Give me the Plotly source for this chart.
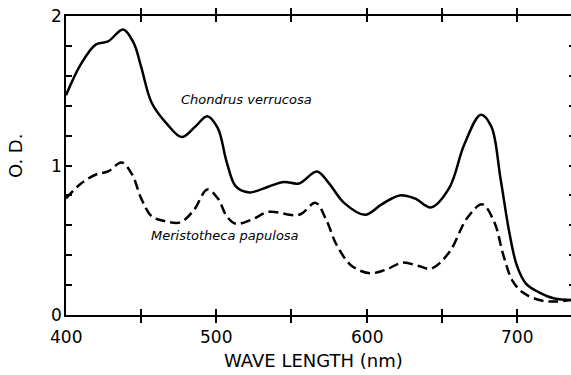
import plotly.graph_objects as go

# Chondrus verrucosa (solid)
wl_c = [400, 410, 420, 428, 438, 445, 450, 457, 467, 477, 486, 494, 501, 507, 513, 522, 535, 545, 555, 567, 575, 585, 599, 610, 622, 632, 643, 655, 665, 676, 683, 689, 695, 700, 706, 715, 725, 736]
od_c = [1.47, 1.68, 1.81, 1.83, 1.91, 1.82, 1.66, 1.42, 1.28, 1.19, 1.26, 1.33, 1.25, 1.02, 0.86, 0.82, 0.86, 0.89, 0.88, 0.96, 0.88, 0.75, 0.67, 0.74, 0.80, 0.78, 0.72, 0.85, 1.14, 1.34, 1.26, 0.92, 0.55, 0.33, 0.21, 0.15, 0.11, 0.10]

# Meristotheca papulosa (dashed)
wl_m = [400, 410, 420, 428, 437, 444, 450, 457, 465, 476, 485, 494, 501, 507, 513, 524, 535, 555, 566, 573, 580, 590, 602, 612, 624, 634, 643, 655, 667, 677, 685, 691, 697, 704, 715, 725, 736]
od_m = [0.78, 0.88, 0.94, 0.96, 1.02, 0.94, 0.78, 0.66, 0.63, 0.62, 0.70, 0.84, 0.78, 0.66, 0.61, 0.64, 0.69, 0.67, 0.75, 0.64, 0.47, 0.33, 0.28, 0.30, 0.35, 0.33, 0.31, 0.42, 0.65, 0.74, 0.62, 0.40, 0.23, 0.15, 0.10, 0.09, 0.10]

x_ticks = [400, 500, 600, 700]
y_ticks = [0, 1, 2]

FONT = "DejaVu Sans"

fig = go.Figure()
fig.add_trace(go.Scatter(x=wl_c, y=od_c, mode="lines",
                         line=dict(color="black", width=2.5, shape="spline", smoothing=1.0),
                         showlegend=False))
fig.add_trace(go.Scatter(x=wl_m, y=od_m, mode="lines",
                         line=dict(color="black", width=2.5, dash="10px,5px", shape="spline", smoothing=1.0),
                         showlegend=False))
# invisible trace for the right-side tick axis
fig.add_trace(go.Scatter(x=[400], y=[0], yaxis="y2", mode="markers", marker=dict(opacity=0),
                         showlegend=False, hoverinfo="skip"))

fig.add_annotation(x=520, y=1.44, text="<i>Chondrus verrucosa</i>", showarrow=False,
                   font=dict(family=FONT, size=13, color="black"))
fig.add_annotation(x=506, y=0.53, text="<i>Meristotheca papulosa</i>", showarrow=False,
                   font=dict(family=FONT, size=13, color="black"))

# axis titles
fig.add_annotation(x=0.49, y=-0.152, xref="paper", yref="paper", text="WAVE LENGTH (nm)",
                   showarrow=False, yanchor="middle", font=dict(family=FONT, size=18))
fig.add_annotation(x=-0.10, y=0.53, xref="paper", yref="paper", text="O. D.", textangle=-90,
                   showarrow=False, xanchor="center", font=dict(family=FONT, size=18))

fig.update_layout(
    width=571, height=375,
    margin=dict(l=66, r=0, t=16, b=60),
    plot_bgcolor="white", paper_bgcolor="white",
    font=dict(family=FONT, size=17, color="black"),
    xaxis=dict(range=[400, 736], showline=True, linecolor="black", linewidth=2, mirror="allticks",
               ticks="inside", ticklen=6, tickwidth=2, tickcolor="black", dtick=50, tick0=400,
               showgrid=False, zeroline=False, showticklabels=False, automargin=False),
    yaxis=dict(range=[0, 2], showline=True, linecolor="black", linewidth=2,
               ticks="inside", ticklen=6, tickwidth=2, tickcolor="black", dtick=0.2, tick0=0,
               showgrid=False, zeroline=False, showticklabels=False, automargin=False),
    yaxis2=dict(range=[0, 2], overlaying="y", side="right", showline=False,
                ticks="inside", ticklen=2, tickwidth=2, tickcolor="black", dtick=0.2, tick0=0,
                showgrid=False, zeroline=False, showticklabels=False, automargin=False),
)

# tick labels tied to axis values
for v in x_ticks:
    fig.add_annotation(x=v, y=0, xref="x", yref="y", text=str(v), showarrow=False,
                       yanchor="top", yshift=-10, font=dict(family=FONT, size=17))
for v in y_ticks:
    fig.add_annotation(x=400, y=v, xref="x", yref="y", text=str(v), showarrow=False,
                       xanchor="right", xshift=-2, font=dict(family=FONT, size=17))

fig.write_html("out.html", config={"displayModeBar": False},
               post_script="document.body.style.margin='0';document.body.style.overflow='hidden';")
